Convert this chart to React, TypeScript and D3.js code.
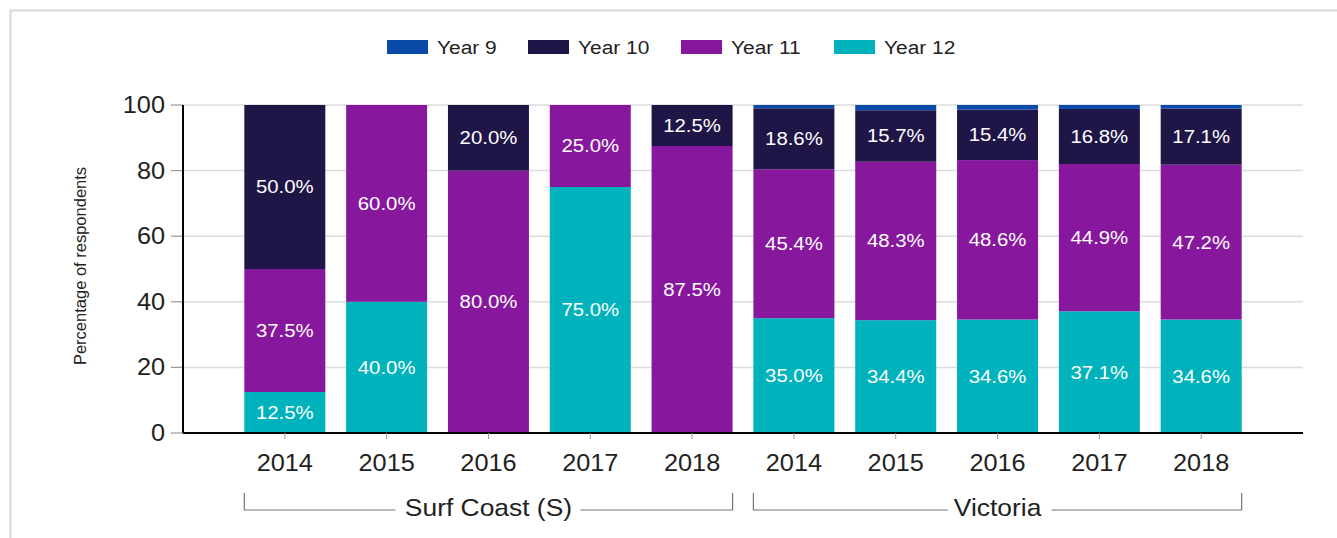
import * as d3 from 'd3';

const series = ['Year 9', 'Year 10', 'Year 11', 'Year 12'];
const colors = ['#0a4aa8', '#201547', '#87189d', '#00b2bb'];

const groups = ['Surf Coast (S)', 'Victoria'];
const years = ['2014', '2015', '2016', '2017', '2018'];

// values per bar, order: Surf Coast 2014..2018, Victoria 2014..2018
const year9 = [0, 0, 0, 0, 0, 1.0, 1.6, 1.4, 1.2, 1.1];
const year10 = [50.0, 0, 20.0, 0, 12.5, 18.6, 15.7, 15.4, 16.8, 17.1];
const year11 = [37.5, 60.0, 80.0, 25.0, 87.5, 45.4, 48.3, 48.6, 44.9, 47.2];
const year12 = [12.5, 40.0, 0, 75.0, 0, 35.0, 34.4, 34.6, 37.1, 34.6];

const yTicks = [0, 20, 40, 60, 80, 100];

const W = 1337;
const H = 538;
const margin = { top: 105, right: 34, bottom: 105, left: 183 };
const SX = 1.1; // text in the original looks slightly wide

function T(props: { x: number; y: number; size: number; anchor?: string; fill?: string; halo?: boolean; children: any }) {
  const { x, y, size, anchor = 'start', fill = '#222', halo = false, children } = props;
  return (
    <text
      transform={`translate(${x},${y}) scale(${SX},1)`}
      dy="0.35em"
      textAnchor={anchor}
      fontSize={size}
      fill={fill}
      stroke={halo ? '#fff' : 'none'}
      strokeWidth={halo ? 18 : 0}
      paintOrder="stroke"
    >
      {children}
    </text>
  );
}

export default function App() {
  const bars = groups.flatMap((g) => years.map((y) => `${g}|${y}`));
  const rows = bars.map((key, i) => ({
    key,
    'Year 9': year9[i],
    'Year 10': year10[i],
    'Year 11': year11[i],
    'Year 12': year12[i],
  }));

  // stack from bottom: Year 12, Year 11, Year 10, Year 9
  const stackOrder = ['Year 12', 'Year 11', 'Year 10', 'Year 9'];
  const stacked = d3.stack<any>().keys(stackOrder)(rows);

  const x = d3.scalePoint<string>()
    .domain(bars)
    .range([margin.left, W - margin.right])
    .padding(1);
  const barW = 81;

  const y = d3.scaleLinear()
    .domain([0, 100])
    .range([H - margin.bottom, margin.top]);

  const color = d3.scaleOrdinal<string, string>().domain(series).range(colors);

  const font = 'Liberation Sans, Arial, sans-serif';
  const y0 = y(0);

  const legendX = [387, 528, 681, 834];

  return (
    <svg width={W} height={H} style={{ position: 'absolute', left: 0, top: 0, background: '#fff' }} fontFamily={font}>
      {/* frame */}
      <path d={`M10.5,${H} V10.5 H${W}`} fill="none" stroke="#d6d6d6" strokeWidth={2} />

      {/* legend */}
      {series.map((s, i) => (
        <g key={s}>
          <rect x={legendX[i]} y={40} width={41} height={14} fill={color(s)} />
          <T x={legendX[i] + 50} y={47} size={19}>{s}</T>
        </g>
      ))}

      {/* gridlines + y ticks */}
      {yTicks.map((t) => (
        <g key={t}>
          <line x1={margin.left} x2={W - margin.right} y1={y(t)} y2={y(t)} stroke="#dcdcdc" strokeWidth={1.5} />
          <line x1={margin.left - 12} x2={margin.left} y1={y(t)} y2={y(t)} stroke="#999" strokeWidth={1.2} />
          <T x={165} y={y(t)} size={23} anchor="end">{t}</T>
        </g>
      ))}

      {/* bars */}
      {stacked.map((layer) => (
        <g key={layer.key} fill={color(layer.key)}>
          {layer.map((d, i) => {
            const v = d[1] - d[0];
            if (v <= 0) return null;
            return (
              <rect key={i} x={(x(bars[i]) as number) - barW / 2} y={y(d[1])} width={barW} height={y(d[0]) - y(d[1])} />
            );
          })}
        </g>
      ))}

      {/* value labels */}
      {stacked.map((layer) => (
        <g key={layer.key + 'l'}>
          {layer.map((d, i) => {
            const v = d[1] - d[0];
            if (v < 5) return null;
            return (
              <T key={i} x={x(bars[i]) as number} y={y((d[0] + d[1]) / 2)} size={18.5} anchor="middle" fill="#fff">
                {v.toFixed(1)}%
              </T>
            );
          })}
        </g>
      ))}

      {/* axes */}
      <line x1={margin.left} x2={margin.left} y1={y(100)} y2={y0} stroke="#000" strokeWidth={2} />
      <line x1={margin.left} x2={W - margin.right} y1={y0} y2={y0} stroke="#000" strokeWidth={2} />
      {bars.map((b) => (
        <g key={b}>
          <line x1={x(b) as number} x2={x(b) as number} y1={y0} y2={y0 + 6} stroke="#999" />
          <T x={x(b) as number} y={463} size={23} anchor="middle">{b.split('|')[1]}</T>
        </g>
      ))}

      {/* group brackets */}
      {groups.map((g) => {
        const inGroup = bars.filter((b) => b.startsWith(g + '|'));
        const x1 = (x(inGroup[0]) as number) - barW / 2;
        const x2 = (x(inGroup[inGroup.length - 1]) as number) + barW / 2;
        const cx = (x1 + x2) / 2;
        return (
          <g key={g}>
            <path d={`M${x1},493 V510 H${x2} V493`} fill="none" stroke="#777" strokeWidth={1.2} />
            <T x={cx} y={508} size={24} anchor="middle" halo>{g}</T>
          </g>
        );
      })}

      {/* y axis title */}
      <text transform={`translate(86,266) rotate(-90)`} textAnchor="middle" fontSize={16.5} fill="#222">
        Percentage of respondents
      </text>
    </svg>
  );
}
